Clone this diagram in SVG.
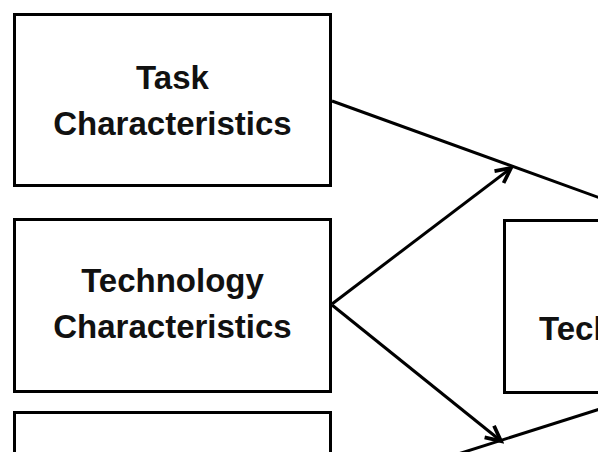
<svg xmlns="http://www.w3.org/2000/svg" width="598" height="452" viewBox="0 0 598 452">
<style>
.box{fill:#fff;stroke:#000;stroke-width:3}
.lbl{font-family:"Liberation Sans",Arial,sans-serif;font-weight:bold;font-size:33px;fill:#111;text-anchor:middle}
.edge{fill:none;stroke:#000;stroke-width:3}
</style>
<defs>
<marker id="arr" markerUnits="userSpaceOnUse" markerWidth="20" markerHeight="20" refX="13" refY="7" orient="auto" viewBox="0 0 16 14">
<path d="M1,1 L13,7 L1,13" fill="none" stroke="#000" stroke-width="3"/>
</marker>
</defs>
<rect width="598" height="452" fill="#fff"/>
<g id="connectors">
<path class="edge" d="M332,101 L600,198"/>
<path class="edge" d="M332,304 L511,168" marker-end="url(#arr)"/>
<path class="edge" d="M332,305 L501,441" marker-end="url(#arr)"/>
<path class="edge" d="M458,454 L600,409"/>
</g>
<g id="task">
<rect class="box" x="14.5" y="14.5" width="316" height="171"/>
<text class="lbl" x="172.5" y="89">Task</text>
<text class="lbl" x="172.5" y="135">Characteristics</text>
</g>
<g id="technology">
<rect class="box" x="14.5" y="219.5" width="316" height="172"/>
<text class="lbl" x="172.5" y="292">Technology</text>
<text class="lbl" x="172.5" y="338">Characteristics</text>
</g>
<g id="third">
<rect class="box" x="14.5" y="412.5" width="316" height="60"/>
</g>
<g id="fit">
<rect class="box" x="504.5" y="220.5" width="120" height="172"/>
<text class="lbl" x="539" y="340" style="text-anchor:start">Tech</text>
</g>
</svg>
